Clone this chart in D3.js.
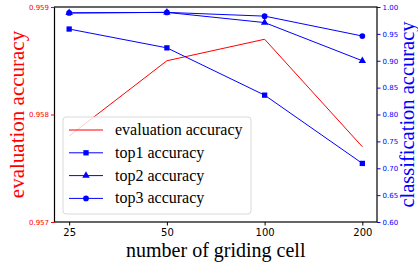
<!DOCTYPE html>
<html>
<head>
<meta charset="utf-8">
<script src="https://cdn.jsdelivr.net/npm/d3@7"></script>
<style>
  body { margin: 0; background: #fff; }
  svg { display: block; }
</style>
</head>
<body>
<div id="chart"></div>
<script>
var width = 418;
var height = 265;
var margin = {top: 7, right: 41, bottom: 43, left: 54.5};

// data
var cells = ["25", "50", "100", "200"];
var evalAcc = [0.9578, 0.9585, 0.9587, 0.9577];
var top1 = [0.959, 0.924, 0.836, 0.709];
var top2 = [0.989, 0.990, 0.971, 0.900];
var top3 = [0.989, 0.990, 0.983, 0.946];
var leftTicks = [0.957, 0.958, 0.959];
var rightTicks = [0.60, 0.65, 0.70, 0.75, 0.80, 0.85, 0.90, 0.95, 1.00];

var svg = d3.select("#chart").append("svg")
  .attr("width", width)
  .attr("height", height);

var x0 = margin.left, x1 = width - margin.right;
var y0 = height - margin.bottom, y1 = margin.top;

var xScale = d3.scalePoint().domain(cells).range([x0, x1]).padding(0.15);
var yLeft = d3.scaleLinear().domain([0.957, 0.959]).range([y0, y1]);
var yRight = d3.scaleLinear().domain([0.60, 1.00]).range([y0, y1]);

var sans = "DejaVu Sans, sans-serif";
var serif = "Liberation Serif, Times New Roman, serif";

// lines
function lineOn(scale) {
  return d3.line().x(function(d, i) { return xScale(cells[i]); }).y(function(d) { return scale(d); });
}

var plot = svg.append("g");
plot.append("path").attr("d", lineOn(yLeft)(evalAcc))
  .attr("fill", "none").attr("stroke", "red").attr("stroke-width", 1);

var series = [
  {name: "top1 accuracy", values: top1, marker: "square"},
  {name: "top2 accuracy", values: top2, marker: "triangle"},
  {name: "top3 accuracy", values: top3, marker: "circle"}
];

var symbolFor = {
  square: d3.symbol().type(d3.symbolSquare).size(28),
  triangle: d3.symbol().type(d3.symbolTriangle).size(24),
  circle: d3.symbol().type(d3.symbolCircle).size(26)
};

series.forEach(function(s) {
  plot.append("path").attr("d", lineOn(yRight)(s.values))
    .attr("fill", "none").attr("stroke", "blue").attr("stroke-width", 1);
  plot.selectAll(null).data(s.values).enter().append("path")
    .attr("d", symbolFor[s.marker])
    .attr("transform", function(d, i) { return "translate(" + xScale(cells[i]) + "," + yRight(d) + ")"; })
    .attr("fill", "blue");
});

// frame
svg.append("rect").attr("x", x0).attr("y", y1).attr("width", x1 - x0).attr("height", y0 - y1)
  .attr("fill", "none").attr("stroke", "#000").attr("stroke-width", 1.2);

// axes
var xAxis = svg.append("g").attr("transform", "translate(0," + y0 + ")")
  .call(d3.axisBottom(xScale).tickSize(3.5).tickPadding(3));
xAxis.select(".domain").remove();
xAxis.selectAll("text").attr("font-family", sans).attr("font-size", 10).attr("fill", "#000");

var leftAxis = svg.append("g").attr("transform", "translate(" + x0 + ",0)")
  .call(d3.axisLeft(yLeft).tickValues(leftTicks).tickFormat(d3.format(".3f")).tickSize(3.5).tickPadding(2));
leftAxis.select(".domain").remove();
leftAxis.selectAll("line").attr("stroke", "red");
leftAxis.selectAll("text").attr("font-family", sans).attr("font-size", 7).attr("fill", "red");

var rightAxis = svg.append("g").attr("transform", "translate(" + x1 + ",0)")
  .call(d3.axisRight(yRight).tickValues(rightTicks).tickFormat(d3.format(".2f")).tickSize(3.5).tickPadding(2));
rightAxis.select(".domain").remove();
rightAxis.selectAll("line").attr("stroke", "blue");
rightAxis.selectAll("text").attr("font-family", sans).attr("font-size", 7).attr("fill", "blue");

// axis titles
svg.append("text").attr("x", (x0 + x1) / 2).attr("y", 257)
  .attr("text-anchor", "middle").attr("font-family", serif).attr("font-size", 20)
  .text("number of griding cell");

svg.append("text").attr("transform", "translate(24," + ((y0 + y1) / 2) + ") rotate(-90)")
  .attr("text-anchor", "middle").attr("font-family", serif).attr("font-size", 21).attr("fill", "red")
  .text("evaluation accuracy");

svg.append("text").attr("transform", "translate(414," + ((y0 + y1) / 2) + ") rotate(-90)")
  .attr("text-anchor", "middle").attr("font-family", serif).attr("font-size", 20.5).attr("fill", "blue")
  .text("classification accuracy");

// legend
var legend = svg.append("g").attr("transform", "translate(63,117)");
legend.append("rect").attr("width", 188).attr("height", 97).attr("rx", 3)
  .attr("fill", "rgba(255,255,255,0.8)").attr("stroke", "#d9d9d9").attr("stroke-width", 1);

var entries = [{name: "evaluation accuracy", color: "red", marker: null}].concat(
  series.map(function(s) { return {name: s.name, color: "blue", marker: s.marker}; }));

entries.forEach(function(e, i) {
  var yy = 13 + i * 22.8;
  legend.append("line").attr("x1", 6).attr("x2", 40).attr("y1", yy).attr("y2", yy)
    .attr("stroke", e.color).attr("stroke-width", 1);
  if (e.marker) {
    legend.append("path").attr("d", symbolFor[e.marker]).attr("transform", "translate(23," + yy + ")")
      .attr("fill", e.color);
  }
  legend.append("text").attr("x", 52).attr("y", yy + 5).attr("font-family", serif).attr("font-size", 16)
    .attr("fill", "#000").text(e.name);
});
</script>
</body>
</html>
